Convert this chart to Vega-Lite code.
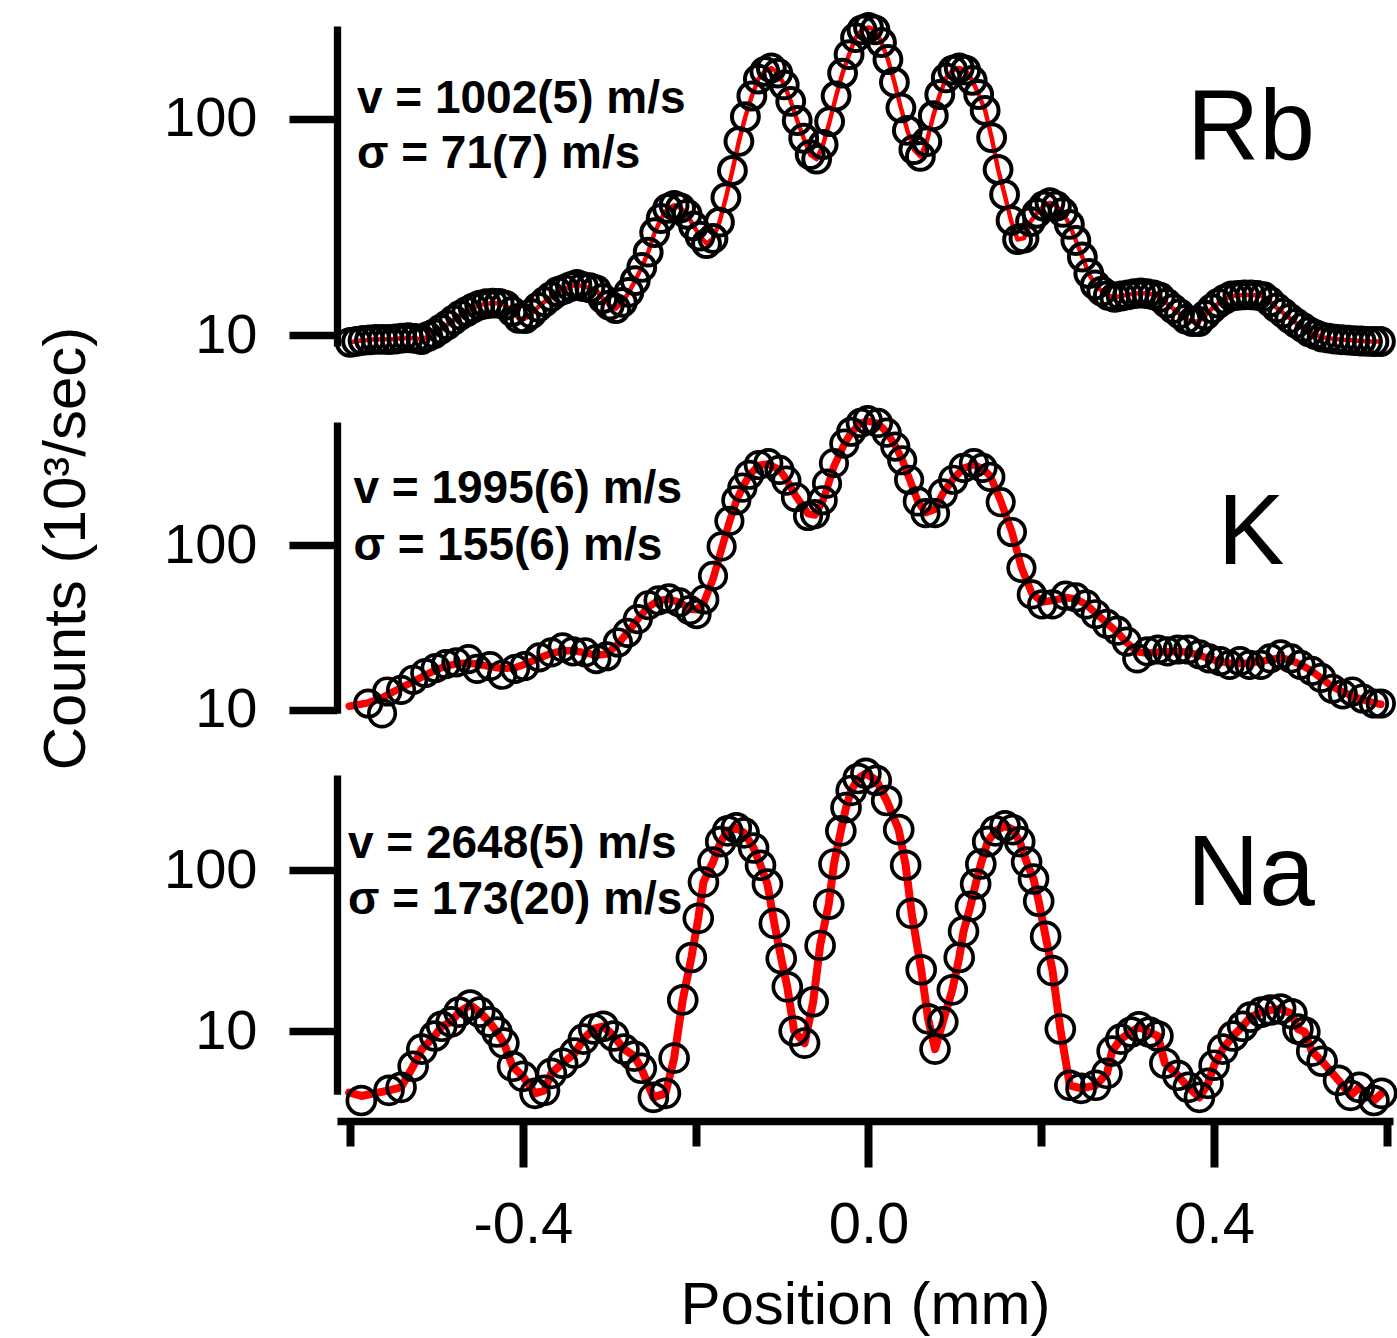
{
  "$schema": "https://vega.github.io/schema/vega-lite/v6.json",
  "width": 1056,
  "height": 1121,
  "autosize": {"type": "none"},
  "padding": {"left": 337, "top": 0, "right": 4, "bottom": 217},
  "background": "white",
  "config": {
    "view": {"stroke": null},
    "font": "Liberation Sans",
    "axis": {"grid": false, "domainColor": "black", "tickColor": "black", "labelColor": "black", "titleColor": "black", "domainCap": "butt", "tickCap": "butt"}
  },
  "datasets": {
    "beams": [
      {"el":"Rb","x":-0.6,"n":9.3},{"el":"Rb","x":-0.5925,"n":9.4},{"el":"Rb","x":-0.585,"n":9.5},{"el":"Rb","x":-0.5775,"n":9.55},
      {"el":"Rb","x":-0.57,"n":9.6},{"el":"Rb","x":-0.5625,"n":9.6},{"el":"Rb","x":-0.555,"n":9.58},{"el":"Rb","x":-0.5475,"n":9.63},
      {"el":"Rb","x":-0.54,"n":9.73},{"el":"Rb","x":-0.5325,"n":9.76},{"el":"Rb","x":-0.525,"n":9.69},{"el":"Rb","x":-0.5175,"n":9.58},
      {"el":"Rb","x":-0.51,"n":9.89},{"el":"Rb","x":-0.5025,"n":10.2},{"el":"Rb","x":-0.495,"n":10.7},{"el":"Rb","x":-0.4875,"n":11.2},
      {"el":"Rb","x":-0.48,"n":11.8},{"el":"Rb","x":-0.4725,"n":12.4},{"el":"Rb","x":-0.465,"n":12.9},{"el":"Rb","x":-0.4575,"n":13.4},
      {"el":"Rb","x":-0.45,"n":13.8},{"el":"Rb","x":-0.4425,"n":14.0},{"el":"Rb","x":-0.435,"n":14.1},{"el":"Rb","x":-0.4275,"n":14.05},
      {"el":"Rb","x":-0.42,"n":13.8},{"el":"Rb","x":-0.4125,"n":12.9},{"el":"Rb","x":-0.405,"n":12.0},{"el":"Rb","x":-0.3975,"n":11.95},
      {"el":"Rb","x":-0.39,"n":12.6},{"el":"Rb","x":-0.3825,"n":13.5},{"el":"Rb","x":-0.375,"n":14.3},{"el":"Rb","x":-0.3675,"n":15.1},
      {"el":"Rb","x":-0.36,"n":15.9},{"el":"Rb","x":-0.3525,"n":16.3},{"el":"Rb","x":-0.345,"n":16.8},{"el":"Rb","x":-0.3375,"n":17.2},
      {"el":"Rb","x":-0.33,"n":16.8},{"el":"Rb","x":-0.3225,"n":16.6},{"el":"Rb","x":-0.315,"n":16.2},{"el":"Rb","x":-0.3075,"n":14.8},
      {"el":"Rb","x":-0.3,"n":13.8},{"el":"Rb","x":-0.2925,"n":13.3},{"el":"Rb","x":-0.285,"n":14.2},{"el":"Rb","x":-0.2775,"n":15.8},
      {"el":"Rb","x":-0.27,"n":17.9},{"el":"Rb","x":-0.2625,"n":20.6},{"el":"Rb","x":-0.255,"n":24.2},{"el":"Rb","x":-0.2475,"n":29.8},
      {"el":"Rb","x":-0.24,"n":34.6},{"el":"Rb","x":-0.2325,"n":38.5},{"el":"Rb","x":-0.225,"n":39.8},{"el":"Rb","x":-0.2175,"n":38.7},
      {"el":"Rb","x":-0.21,"n":36.2},{"el":"Rb","x":-0.2025,"n":32.0},{"el":"Rb","x":-0.195,"n":28.7},{"el":"Rb","x":-0.1875,"n":26.5},
      {"el":"Rb","x":-0.18,"n":28.0},{"el":"Rb","x":-0.1725,"n":33.3},{"el":"Rb","x":-0.165,"n":43.2},{"el":"Rb","x":-0.1575,"n":57.6},
      {"el":"Rb","x":-0.15,"n":78.5},{"el":"Rb","x":-0.1425,"n":102},{"el":"Rb","x":-0.135,"n":127},{"el":"Rb","x":-0.1275,"n":152},
      {"el":"Rb","x":-0.12,"n":165},{"el":"Rb","x":-0.1125,"n":171},{"el":"Rb","x":-0.105,"n":162},{"el":"Rb","x":-0.0975,"n":143},
      {"el":"Rb","x":-0.09,"n":120},{"el":"Rb","x":-0.0825,"n":97.9},{"el":"Rb","x":-0.075,"n":81.1},{"el":"Rb","x":-0.0675,"n":68.2},
      {"el":"Rb","x":-0.06,"n":65.0},{"el":"Rb","x":-0.0525,"n":75.9},{"el":"Rb","x":-0.045,"n":96.8},{"el":"Rb","x":-0.0375,"n":127},
      {"el":"Rb","x":-0.03,"n":162},{"el":"Rb","x":-0.0225,"n":197},{"el":"Rb","x":-0.015,"n":236},{"el":"Rb","x":-0.0075,"n":256},
      {"el":"Rb","x":0.0,"n":263},{"el":"Rb","x":0.0075,"n":256},{"el":"Rb","x":0.015,"n":224},{"el":"Rb","x":0.0225,"n":187},
      {"el":"Rb","x":0.03,"n":147},{"el":"Rb","x":0.0375,"n":112},{"el":"Rb","x":0.045,"n":88.1},{"el":"Rb","x":0.0525,"n":71.9},
      {"el":"Rb","x":0.06,"n":66.9},{"el":"Rb","x":0.0675,"n":78.3},{"el":"Rb","x":0.075,"n":103},{"el":"Rb","x":0.0825,"n":129},
      {"el":"Rb","x":0.09,"n":154},{"el":"Rb","x":0.0975,"n":167},{"el":"Rb","x":0.105,"n":171},{"el":"Rb","x":0.1125,"n":167},
      {"el":"Rb","x":0.12,"n":150},{"el":"Rb","x":0.1275,"n":129},{"el":"Rb","x":0.135,"n":109},{"el":"Rb","x":0.1425,"n":81.7},
      {"el":"Rb","x":0.15,"n":58.2},{"el":"Rb","x":0.1575,"n":44.7},{"el":"Rb","x":0.165,"n":33.9},{"el":"Rb","x":0.1725,"n":27.7},
      {"el":"Rb","x":0.18,"n":28.1},{"el":"Rb","x":0.1875,"n":33.5},{"el":"Rb","x":0.195,"n":36.6},{"el":"Rb","x":0.2025,"n":39.5},
      {"el":"Rb","x":0.21,"n":40.9},{"el":"Rb","x":0.2175,"n":39.5},{"el":"Rb","x":0.225,"n":36.9},{"el":"Rb","x":0.2325,"n":32.5},
      {"el":"Rb","x":0.24,"n":27.4},{"el":"Rb","x":0.2475,"n":23.0},{"el":"Rb","x":0.255,"n":19.3},{"el":"Rb","x":0.2625,"n":17.1},
      {"el":"Rb","x":0.27,"n":16.0},{"el":"Rb","x":0.2775,"n":15.3},{"el":"Rb","x":0.285,"n":15.0},{"el":"Rb","x":0.2925,"n":15.2},
      {"el":"Rb","x":0.3,"n":15.4},{"el":"Rb","x":0.3075,"n":15.6},{"el":"Rb","x":0.315,"n":15.7},{"el":"Rb","x":0.3225,"n":15.6},
      {"el":"Rb","x":0.33,"n":15.4},{"el":"Rb","x":0.3375,"n":15.0},{"el":"Rb","x":0.345,"n":14.1},{"el":"Rb","x":0.3525,"n":13.3},
      {"el":"Rb","x":0.36,"n":12.6},{"el":"Rb","x":0.3675,"n":11.9},{"el":"Rb","x":0.375,"n":11.6},{"el":"Rb","x":0.3825,"n":11.6},
      {"el":"Rb","x":0.39,"n":12.4},{"el":"Rb","x":0.3975,"n":13.3},{"el":"Rb","x":0.405,"n":14.1},{"el":"Rb","x":0.4125,"n":14.7},
      {"el":"Rb","x":0.42,"n":15.2},{"el":"Rb","x":0.4275,"n":15.3},{"el":"Rb","x":0.435,"n":15.4},{"el":"Rb","x":0.4425,"n":15.4},
      {"el":"Rb","x":0.45,"n":15.3},{"el":"Rb","x":0.4575,"n":15.1},{"el":"Rb","x":0.465,"n":14.3},{"el":"Rb","x":0.4725,"n":13.4},
      {"el":"Rb","x":0.48,"n":12.7},{"el":"Rb","x":0.4875,"n":12.0},{"el":"Rb","x":0.495,"n":11.4},{"el":"Rb","x":0.5025,"n":10.9},
      {"el":"Rb","x":0.51,"n":10.4},{"el":"Rb","x":0.5175,"n":10.1},{"el":"Rb","x":0.525,"n":9.83},{"el":"Rb","x":0.5325,"n":9.72},
      {"el":"Rb","x":0.54,"n":9.62},{"el":"Rb","x":0.5475,"n":9.56},{"el":"Rb","x":0.555,"n":9.52},{"el":"Rb","x":0.5625,"n":9.47},
      {"el":"Rb","x":0.57,"n":9.43},{"el":"Rb","x":0.5775,"n":9.39},{"el":"Rb","x":0.585,"n":9.38},{"el":"Rb","x":0.5925,"n":9.38},

      {"el":"K","x":-0.601,"n":null,"f":10.5},
      {"el":"K","x":-0.579,"n":10.9,"f":11.0},{"el":"K","x":-0.563,"n":9.5,"f":11.8},{"el":"K","x":-0.557,"n":12.9,"f":12.3},
      {"el":"K","x":-0.541,"n":13.2,"f":13.6},{"el":"K","x":-0.527,"n":15.2,"f":14.8},{"el":"K","x":-0.513,"n":16.7,"f":16.2},
      {"el":"K","x":-0.501,"n":17.9,"f":17.4},{"el":"K","x":-0.489,"n":18.9,"f":18.4},{"el":"K","x":-0.477,"n":19.4,"f":19.0},
      {"el":"K","x":-0.463,"n":20.3,"f":19.2},{"el":"K","x":-0.453,"n":17.7,"f":18.9},{"el":"K","x":-0.438,"n":18.4,"f":18.3},
      {"el":"K","x":-0.424,"n":16.3,"f":17.8},{"el":"K","x":-0.409,"n":17.7,"f":18.0},{"el":"K","x":-0.398,"n":18.4,"f":18.9},
      {"el":"K","x":-0.381,"n":20.8,"f":20.6},{"el":"K","x":-0.367,"n":22.3,"f":22.0},{"el":"K","x":-0.354,"n":23.9,"f":22.8},
      {"el":"K","x":-0.342,"n":22.6,"f":22.8},{"el":"K","x":-0.328,"n":22.3,"f":22.2},{"el":"K","x":-0.315,"n":20.3,"f":21.4},
      {"el":"K","x":-0.303,"n":21.1,"f":21.8},{"el":"K","x":-0.29,"n":25.6,"f":25.0},{"el":"K","x":-0.279,"n":29.3,"f":29.5},
      {"el":"K","x":-0.267,"n":35.5,"f":35.5},{"el":"K","x":-0.255,"n":43.1,"f":42.0},{"el":"K","x":-0.243,"n":46.1,"f":46.0},
      {"el":"K","x":-0.231,"n":47.4,"f":46.8},{"el":"K","x":-0.219,"n":44.9,"f":45.0},{"el":"K","x":-0.207,"n":40.2,"f":41.0},
      {"el":"K","x":-0.199,"n":38.0,"f":40.5},{"el":"K","x":-0.19,"n":46.7,"f":45.5},{"el":"K","x":-0.18,"n":64.9,"f":62.0},
      {"el":"K","x":-0.17,"n":98.0,"f":95.0},{"el":"K","x":-0.161,"n":140,"f":138},{"el":"K","x":-0.153,"n":187,"f":185},
      {"el":"K","x":-0.146,"n":223,"f":223},{"el":"K","x":-0.138,"n":267,"f":265},{"el":"K","x":-0.127,"n":306,"f":305},
      {"el":"K","x":-0.116,"n":314,"f":310},{"el":"K","x":-0.103,"n":286,"f":286},{"el":"K","x":-0.095,"n":246,"f":250},
      {"el":"K","x":-0.084,"n":195,"f":198},{"el":"K","x":-0.07,"n":150,"f":155},{"el":"K","x":-0.062,"n":154,"f":152},
      {"el":"K","x":-0.053,"n":187,"f":185},{"el":"K","x":-0.048,"n":236,"f":220},{"el":"K","x":-0.04,"n":314,"f":300},
      {"el":"K","x":-0.028,"n":413,"f":410},{"el":"K","x":-0.02,"n":487,"f":480},{"el":"K","x":-0.009,"n":551,"f":550},
      {"el":"K","x":-0.001,"n":574,"f":565},{"el":"K","x":0.011,"n":551,"f":548},{"el":"K","x":0.021,"n":481,"f":485},
      {"el":"K","x":0.031,"n":396,"f":400},{"el":"K","x":0.039,"n":327,"f":330},{"el":"K","x":0.047,"n":249,"f":255},
      {"el":"K","x":0.057,"n":184,"f":185},{"el":"K","x":0.066,"n":156,"f":157},{"el":"K","x":0.077,"n":156,"f":165},
      {"el":"K","x":0.086,"n":206,"f":205},{"el":"K","x":0.098,"n":249,"f":252},{"el":"K","x":0.11,"n":294,"f":292},
      {"el":"K","x":0.122,"n":314,"f":308},{"el":"K","x":0.132,"n":294,"f":290},{"el":"K","x":0.141,"n":259,"f":262},
      {"el":"K","x":0.153,"n":182,"f":185},{"el":"K","x":0.166,"n":120,"f":120},{"el":"K","x":0.177,"n":72.5,"f":73.0},
      {"el":"K","x":0.189,"n":50.1,"f":51.0},{"el":"K","x":0.201,"n":43.6,"f":45.0},{"el":"K","x":0.213,"n":43.6,"f":46.0},
      {"el":"K","x":0.228,"n":49.3,"f":48.0},{"el":"K","x":0.24,"n":48.1,"f":47.0},{"el":"K","x":0.252,"n":43.6,"f":43.5},
      {"el":"K","x":0.263,"n":38.0,"f":38.5},{"el":"K","x":0.276,"n":33.2,"f":33.5},{"el":"K","x":0.288,"n":30.2,"f":29.5},
      {"el":"K","x":0.299,"n":25.9,"f":25.5},{"el":"K","x":0.311,"n":20.5,"f":22.5},{"el":"K","x":0.323,"n":22.6,"f":22.0},
      {"el":"K","x":0.335,"n":23.2,"f":22.4},{"el":"K","x":0.346,"n":22.6,"f":22.5},{"el":"K","x":0.358,"n":23.2,"f":22.6},
      {"el":"K","x":0.37,"n":23.2,"f":22.3},{"el":"K","x":0.383,"n":21.7,"f":21.4},{"el":"K","x":0.394,"n":20.5,"f":20.4},
      {"el":"K","x":0.407,"n":19.7,"f":19.6},{"el":"K","x":0.418,"n":18.7,"f":19.2},{"el":"K","x":0.43,"n":19.7,"f":19.1},
      {"el":"K","x":0.441,"n":18.7,"f":19.2},{"el":"K","x":0.454,"n":18.7,"f":19.6},{"el":"K","x":0.465,"n":20.5,"f":20.2},
      {"el":"K","x":0.477,"n":21.7,"f":20.6},{"el":"K","x":0.489,"n":20.5,"f":20.0},{"el":"K","x":0.5,"n":18.7,"f":18.8},
      {"el":"K","x":0.513,"n":17.2,"f":17.2},{"el":"K","x":0.524,"n":15.6,"f":15.5},{"el":"K","x":0.537,"n":13.4,"f":13.8},
      {"el":"K","x":0.549,"n":12.4,"f":12.8},{"el":"K","x":0.56,"n":12.9,"f":12.1},{"el":"K","x":0.572,"n":11.7,"f":11.5},
      {"el":"K","x":0.585,"n":10.9,"f":11.0},{"el":"K","x":0.593,"n":10.9,"f":10.8},

      {"el":"Na","x":-0.601,"n":null,"f":4.15},
      {"el":"Na","x":-0.587,"n":3.7,"f":3.95},{"el":"Na","x":-0.555,"n":4.28,"f":4.28},{"el":"Na","x":-0.541,"n":4.47,"f":4.47},
      {"el":"Na","x":-0.527,"n":6.04,"f":6.04},{"el":"Na","x":-0.517,"n":7.72,"f":7.72},{"el":"Na","x":-0.502,"n":9.31,"f":9.31},
      {"el":"Na","x":-0.494,"n":10.7,"f":10.7},{"el":"Na","x":-0.483,"n":11.4,"f":11.4},{"el":"Na","x":-0.474,"n":13.1,"f":13.1},
      {"el":"Na","x":-0.461,"n":14.5,"f":14.5},{"el":"Na","x":-0.45,"n":13.1,"f":13.1},{"el":"Na","x":-0.439,"n":11.4,"f":11.4},
      {"el":"Na","x":-0.43,"n":9.86,"f":9.86},{"el":"Na","x":-0.422,"n":8.41,"f":8.41},{"el":"Na","x":-0.412,"n":6.04,"f":6.04},
      {"el":"Na","x":-0.4,"n":5.23,"f":5.23},{"el":"Na","x":-0.386,"n":4.1,"f":4.1},{"el":"Na","x":-0.375,"n":4.28,"f":4.28},
      {"el":"Na","x":-0.367,"n":5.46,"f":5.46},{"el":"Na","x":-0.354,"n":6.31,"f":6.31},{"el":"Na","x":-0.34,"n":7.29,"f":7.29},
      {"el":"Na","x":-0.33,"n":8.91,"f":8.91},{"el":"Na","x":-0.318,"n":10.3,"f":10.3},{"el":"Na","x":-0.307,"n":10.7,"f":10.7},
      {"el":"Na","x":-0.295,"n":9.31,"f":9.31},{"el":"Na","x":-0.283,"n":7.72,"f":7.72},{"el":"Na","x":-0.271,"n":6.98,"f":6.98},
      {"el":"Na","x":-0.263,"n":5.87,"f":5.87},{"el":"Na","x":-0.249,"n":3.87,"f":3.87},{"el":"Na","x":-0.235,"n":4.1,"f":4.1},
      {"el":"Na","x":-0.225,"n":6.78,"f":6.78},{"el":"Na","x":-0.215,"n":15.6,"f":15.6},{"el":"Na","x":-0.205,"n":28.6,"f":28.6},
      {"el":"Na","x":-0.197,"n":50.1,"f":50.1},{"el":"Na","x":-0.191,"n":84.1,"f":84.1},{"el":"Na","x":-0.18,"n":112,"f":112},
      {"el":"Na","x":-0.171,"n":150,"f":150},{"el":"Na","x":-0.163,"n":175,"f":175},{"el":"Na","x":-0.153,"n":183,"f":183},
      {"el":"Na","x":-0.144,"n":170,"f":170},{"el":"Na","x":-0.133,"n":137,"f":137},{"el":"Na","x":-0.125,"n":107,"f":107},
      {"el":"Na","x":-0.117,"n":81.8,"f":81.8},{"el":"Na","x":-0.109,"n":46.6,"f":46.6},{"el":"Na","x":-0.101,"n":28.2,"f":28.2},
      {"el":"Na","x":-0.094,"n":18.8,"f":18.8},{"el":"Na","x":-0.086,"n":10.0,"f":10.0},{"el":"Na","x":-0.074,"n":8.41,"f":8.41},
      {"el":"Na","x":-0.064,"n":15.2,"f":15.2},{"el":"Na","x":-0.056,"n":34.0,"f":34.0},{"el":"Na","x":-0.046,"n":61.3,"f":61.3},
      {"el":"Na","x":-0.04,"n":109,"f":109},{"el":"Na","x":-0.032,"n":175,"f":175},{"el":"Na","x":-0.026,"n":244,"f":244},
      {"el":"Na","x":-0.02,"n":312,"f":312},{"el":"Na","x":-0.012,"n":370,"f":370},{"el":"Na","x":-0.003,"n":398,"f":398},
      {"el":"Na","x":0.009,"n":360,"f":360},{"el":"Na","x":0.021,"n":270,"f":270},{"el":"Na","x":0.035,"n":178,"f":178},
      {"el":"Na","x":0.043,"n":107,"f":107},{"el":"Na","x":0.05,"n":53.8,"f":53.8},{"el":"Na","x":0.061,"n":24.0,"f":24.0},
      {"el":"Na","x":0.069,"n":11.9,"f":11.9},{"el":"Na","x":0.077,"n":7.72,"f":7.72},{"el":"Na","x":0.086,"n":11.4,"f":11.4},
      {"el":"Na","x":0.097,"n":18.0,"f":18.0},{"el":"Na","x":0.105,"n":28.6,"f":28.6},{"el":"Na","x":0.11,"n":41.6,"f":41.6},
      {"el":"Na","x":0.118,"n":59.6,"f":59.6},{"el":"Na","x":0.124,"n":81.8,"f":81.8},{"el":"Na","x":0.13,"n":109,"f":109},
      {"el":"Na","x":0.138,"n":150,"f":150},{"el":"Na","x":0.147,"n":175,"f":175},{"el":"Na","x":0.158,"n":188,"f":188},
      {"el":"Na","x":0.167,"n":178,"f":178},{"el":"Na","x":0.175,"n":150,"f":150},{"el":"Na","x":0.183,"n":112,"f":112},
      {"el":"Na","x":0.191,"n":87.9,"f":87.9},{"el":"Na","x":0.197,"n":64.0,"f":64.0},{"el":"Na","x":0.205,"n":38.7,"f":38.7},
      {"el":"Na","x":0.213,"n":23.7,"f":23.7},{"el":"Na","x":0.222,"n":10.3,"f":10.3},{"el":"Na","x":0.233,"n":4.6,"f":4.6},
      {"el":"Na","x":0.246,"n":4.4,"f":4.4},{"el":"Na","x":0.263,"n":4.6,"f":4.6},{"el":"Na","x":0.276,"n":5.46,"f":5.46},
      {"el":"Na","x":0.282,"n":7.5,"f":7.5},{"el":"Na","x":0.292,"n":8.91,"f":8.91},{"el":"Na","x":0.304,"n":9.86,"f":9.86},
      {"el":"Na","x":0.313,"n":10.6,"f":10.6},{"el":"Na","x":0.325,"n":9.86,"f":9.86},{"el":"Na","x":0.335,"n":9.31,"f":9.31},
      {"el":"Na","x":0.343,"n":6.31,"f":6.31},{"el":"Na","x":0.358,"n":5.31,"f":5.31},{"el":"Na","x":0.37,"n":4.47,"f":4.47},
      {"el":"Na","x":0.383,"n":3.87,"f":3.87},{"el":"Na","x":0.393,"n":4.73,"f":4.73},{"el":"Na","x":0.4,"n":6.13,"f":6.13},
      {"el":"Na","x":0.41,"n":7.72,"f":7.72},{"el":"Na","x":0.422,"n":9.31,"f":9.31},{"el":"Na","x":0.433,"n":10.7,"f":10.7},
      {"el":"Na","x":0.442,"n":12.2,"f":12.2},{"el":"Na","x":0.455,"n":13.1,"f":13.1},{"el":"Na","x":0.465,"n":13.5,"f":13.5},
      {"el":"Na","x":0.477,"n":13.7,"f":13.7},{"el":"Na","x":0.49,"n":12.8,"f":12.8},{"el":"Na","x":0.497,"n":10.3,"f":10.3},
      {"el":"Na","x":0.505,"n":9.86,"f":9.86},{"el":"Na","x":0.513,"n":7.5,"f":7.5},{"el":"Na","x":0.525,"n":6.49,"f":6.49},
      {"el":"Na","x":0.544,"n":4.94,"f":4.94},{"el":"Na","x":0.558,"n":3.98,"f":3.98},{"el":"Na","x":0.568,"n":4.47,"f":4.47},
      {"el":"Na","x":0.585,"n":3.7,"f":3.7},{"el":"Na","x":0.594,"n":4.1,"f":4.1}
    ],
    "notes": [
      {"el": "Rb", "kind": "fit", "txt": ["v = 1002(5) m/s", "σ = 71(7) m/s"]},
      {"el": "K", "kind": "fit", "txt": ["v = 1995(6) m/s", "σ = 155(6) m/s"]},
      {"el": "Na", "kind": "fit", "txt": ["v = 2648(5) m/s", "σ = 173(20) m/s"]},
      {"el": "Rb", "kind": "name", "txt": "Rb"},
      {"el": "K", "kind": "name", "txt": "K"},
      {"el": "Na", "kind": "name", "txt": "Na"}
    ]
  },
  "data": {"name": "beams"},
  "layer": [
    {
      "layer": [
        {
          "transform": [{"filter": "datum.el === 'Rb'"}],
          "mark": {"type": "line", "color": "#ff0000", "strokeWidth": 4.5, "strokeCap": "round", "strokeJoin": "round"},
          "encoding": {
            "x": {"field": "x", "type": "quantitative", "scale": {"domain": [-0.61516, 0.60706], "nice": false, "zero": false}, "axis": null},
            "y": {"field": "n", "type": "quantitative", "scale": {"type": "log", "domain": [8.944, 266.9], "range": [346, 26], "nice": false},
                  "axis": {"orient": "left", "values": [10, 100], "format": "d", "title": null, "domainWidth": 7.3, "tickSize": 48, "tickWidth": 7.5, "labelFontSize": 56, "labelPadding": 32, "offset": 0}}
          }
        },
        {
          "transform": [{"filter": "datum.el === 'Rb'"}],
          "mark": {"type": "point", "shape": "circle", "filled": false, "size": 720, "strokeWidth": 4.0, "color": "black", "opacity": 1},
          "encoding": {
            "x": {"field": "x", "type": "quantitative", "scale": {"domain": [-0.61516, 0.60706], "nice": false, "zero": false}, "axis": null},
            "y": {"field": "n", "type": "quantitative", "scale": {"type": "log", "domain": [8.944, 266.9], "range": [346, 26], "nice": false},
                  "axis": {"orient": "left", "values": [10, 100], "format": "d", "title": null, "domainWidth": 7.3, "tickSize": 48, "tickWidth": 7.5, "labelFontSize": 56, "labelPadding": 32, "offset": 0}}
          }
        },
        {
          "data": {"name": "notes"},
          "transform": [{"filter": "datum.el === 'Rb' && datum.kind === 'fit'"}],
          "mark": {"type": "text", "fontSize": 46, "fontWeight": "bold", "align": "left", "baseline": "alphabetic", "lineHeight": 55, "color": "black"},
          "encoding": {
            "x": {"datum": -0.5921, "type": "quantitative", "axis": null},
            "y": {"datum": 106.2, "type": "quantitative",
                  "axis": {"orient": "left", "values": [10, 100], "format": "d", "title": null, "domainWidth": 7.3, "tickSize": 48, "tickWidth": 7.5, "labelFontSize": 56, "labelPadding": 32, "offset": 0}},
            "text": {"field": "txt"}
          }
        },
        {
          "data": {"name": "notes"},
          "transform": [{"filter": "datum.el === 'Rb' && datum.kind === 'name'"}],
          "mark": {"type": "text", "fontSize": 100, "align": "center", "baseline": "alphabetic", "color": "black"},
          "encoding": {
            "x": {"datum": 0.4427, "type": "quantitative", "axis": null},
            "y": {"datum": 64.4, "type": "quantitative",
                  "axis": {"orient": "left", "values": [10, 100], "format": "d", "title": null, "domainWidth": 7.3, "tickSize": 48, "tickWidth": 7.5, "labelFontSize": 56, "labelPadding": 32, "offset": 0}},
            "text": {"field": "txt"}
          }
        }
      ]
    },
    {
      "layer": [
        {
          "transform": [{"filter": "datum.el === 'K'"}],
          "mark": {"type": "line", "color": "#ff0000", "strokeWidth": 7.5, "strokeCap": "round", "strokeJoin": "round"},
          "encoding": {
            "x": {"field": "x", "type": "quantitative", "scale": {"domain": [-0.61516, 0.60706], "nice": false, "zero": false},
                  "axis": {"orient": "bottom", "values": [-0.6, -0.2, 0.2, 0.6], "labels": false, "title": null, "domain": false, "tickSize": 25, "tickWidth": 8}},
            "y": {"field": "f", "type": "quantitative", "scale": {"type": "log", "domain": [9.509, 558.3], "range": [713.3, 422], "nice": false},
                  "axis": {"orient": "left", "values": [10, 100], "format": "d", "title": "Counts (10³/sec)", "titleFontSize": 60, "titleFontWeight": "normal", "titleAngle": 270, "titleBaseline": "alphabetic", "titleAlign": "center", "titleX": -253, "titleY": 548, "domainWidth": 7.3, "tickSize": 48, "tickWidth": 7.5, "labelFontSize": 56, "labelPadding": 32, "offset": 0}}
          }
        },
        {
          "transform": [{"filter": "datum.el === 'K' && datum.n != null"}],
          "mark": {"type": "point", "shape": "circle", "filled": false, "size": 700, "strokeWidth": 3.7, "color": "black", "opacity": 1},
          "encoding": {
            "x": {"field": "x", "type": "quantitative", "scale": {"domain": [-0.61516, 0.60706], "nice": false, "zero": false},
                  "axis": {"orient": "bottom", "values": [-0.6, -0.2, 0.2, 0.6], "labels": false, "title": null, "domain": false, "tickSize": 25, "tickWidth": 8}},
            "y": {"field": "n", "type": "quantitative", "scale": {"type": "log", "domain": [9.509, 558.3], "range": [713.3, 422], "nice": false},
                  "axis": {"orient": "left", "values": [10, 100], "format": "d", "title": "Counts (10³/sec)", "titleFontSize": 60, "titleFontWeight": "normal", "titleAngle": 270, "titleBaseline": "alphabetic", "titleAlign": "center", "titleX": -253, "titleY": 548, "domainWidth": 7.3, "tickSize": 48, "tickWidth": 7.5, "labelFontSize": 56, "labelPadding": 32, "offset": 0}}
          }
        },
        {
          "data": {"name": "notes"},
          "transform": [{"filter": "datum.el === 'K' && datum.kind === 'fit'"}],
          "mark": {"type": "text", "fontSize": 46, "fontWeight": "bold", "align": "left", "baseline": "alphabetic", "lineHeight": 57, "color": "black"},
          "encoding": {
            "x": {"datum": -0.5962, "type": "quantitative",
                  "axis": {"orient": "bottom", "values": [-0.6, -0.2, 0.2, 0.6], "labels": false, "title": null, "domain": false, "tickSize": 25, "tickWidth": 8}},
            "y": {"datum": 180.6, "type": "quantitative",
                  "axis": {"orient": "left", "values": [10, 100], "format": "d", "title": "Counts (10³/sec)", "titleFontSize": 60, "titleFontWeight": "normal", "titleAngle": 270, "titleBaseline": "alphabetic", "titleAlign": "center", "titleX": -253, "titleY": 548, "domainWidth": 7.3, "tickSize": 48, "tickWidth": 7.5, "labelFontSize": 56, "labelPadding": 32, "offset": 0}},
            "text": {"field": "txt"}
          }
        },
        {
          "data": {"name": "notes"},
          "transform": [{"filter": "datum.el === 'K' && datum.kind === 'name'"}],
          "mark": {"type": "text", "fontSize": 100, "align": "center", "baseline": "alphabetic", "color": "black"},
          "encoding": {
            "x": {"datum": 0.4427, "type": "quantitative",
                  "axis": {"orient": "bottom", "values": [-0.6, -0.2, 0.2, 0.6], "labels": false, "title": null, "domain": false, "tickSize": 25, "tickWidth": 8}},
            "y": {"datum": 76.7, "type": "quantitative",
                  "axis": {"orient": "left", "values": [10, 100], "format": "d", "title": "Counts (10³/sec)", "titleFontSize": 60, "titleFontWeight": "normal", "titleAngle": 270, "titleBaseline": "alphabetic", "titleAlign": "center", "titleX": -253, "titleY": 548, "domainWidth": 7.3, "tickSize": 48, "tickWidth": 7.5, "labelFontSize": 56, "labelPadding": 32, "offset": 0}},
            "text": {"field": "txt"}
          }
        }
      ]
    },
    {
      "layer": [
        {
          "transform": [{"filter": "datum.el === 'Na'"}],
          "mark": {"type": "line", "color": "#ff0000", "strokeWidth": 8, "strokeCap": "round", "strokeJoin": "round"},
          "encoding": {
            "x": {"field": "x", "type": "quantitative", "scale": {"domain": [-0.61516, 0.60706], "nice": false, "zero": false},
                  "axis": {"orient": "bottom", "values": [-0.4, 0, 0.4], "labelExpr": "datum.value < 0 ? '-' + format(-datum.value, '.1f') : format(datum.value, '.1f')", "title": "Position (mm)", "titleFontSize": 60, "titleFontWeight": "normal", "titlePadding": 22, "domainWidth": 7.3, "tickSize": 46, "tickWidth": 8, "labelFontSize": 58, "labelPadding": 29}},
            "y": {"field": "f", "type": "quantitative", "scale": {"type": "log", "domain": [4.045, 389.1], "range": [1094.3, 775], "nice": false},
                  "axis": {"orient": "left", "values": [10, 100], "format": "d", "title": null, "domainWidth": 7.3, "tickSize": 48, "tickWidth": 7.5, "labelFontSize": 56, "labelPadding": 32, "offset": 0}}
          }
        },
        {
          "transform": [{"filter": "datum.el === 'Na' && datum.n != null"}],
          "mark": {"type": "point", "shape": "circle", "filled": false, "size": 780, "strokeWidth": 3.7, "color": "black", "opacity": 1},
          "encoding": {
            "x": {"field": "x", "type": "quantitative", "scale": {"domain": [-0.61516, 0.60706], "nice": false, "zero": false},
                  "axis": {"orient": "bottom", "values": [-0.4, 0, 0.4], "labelExpr": "datum.value < 0 ? '-' + format(-datum.value, '.1f') : format(datum.value, '.1f')", "title": "Position (mm)", "titleFontSize": 60, "titleFontWeight": "normal", "titlePadding": 22, "domainWidth": 7.3, "tickSize": 46, "tickWidth": 8, "labelFontSize": 58, "labelPadding": 29}},
            "y": {"field": "n", "type": "quantitative", "scale": {"type": "log", "domain": [4.045, 389.1], "range": [1094.3, 775], "nice": false},
                  "axis": {"orient": "left", "values": [10, 100], "format": "d", "title": null, "domainWidth": 7.3, "tickSize": 48, "tickWidth": 7.5, "labelFontSize": 56, "labelPadding": 32, "offset": 0}}
          }
        },
        {
          "data": {"name": "notes"},
          "transform": [{"filter": "datum.el === 'Na' && datum.kind === 'fit'"}],
          "mark": {"type": "text", "fontSize": 46, "fontWeight": "bold", "align": "left", "baseline": "alphabetic", "lineHeight": 56, "color": "black"},
          "encoding": {
            "x": {"datum": -0.6025, "type": "quantitative",
                  "axis": {"orient": "bottom", "values": [-0.4, 0, 0.4], "labelExpr": "datum.value < 0 ? '-' + format(-datum.value, '.1f') : format(datum.value, '.1f')", "title": "Position (mm)", "titleFontSize": 60, "titleFontWeight": "normal", "titlePadding": 22, "domainWidth": 7.3, "tickSize": 46, "tickWidth": 8, "labelFontSize": 58, "labelPadding": 29}},
            "y": {"datum": 119.2, "type": "quantitative",
                  "axis": {"orient": "left", "values": [10, 100], "format": "d", "title": null, "domainWidth": 7.3, "tickSize": 48, "tickWidth": 7.5, "labelFontSize": 56, "labelPadding": 32, "offset": 0}},
            "text": {"field": "txt"}
          }
        },
        {
          "data": {"name": "notes"},
          "transform": [{"filter": "datum.el === 'Na' && datum.kind === 'name'"}],
          "mark": {"type": "text", "fontSize": 100, "align": "center", "baseline": "alphabetic", "color": "black"},
          "encoding": {
            "x": {"datum": 0.4427, "type": "quantitative",
                  "axis": {"orient": "bottom", "values": [-0.4, 0, 0.4], "labelExpr": "datum.value < 0 ? '-' + format(-datum.value, '.1f') : format(datum.value, '.1f')", "title": "Position (mm)", "titleFontSize": 60, "titleFontWeight": "normal", "titlePadding": 22, "domainWidth": 7.3, "tickSize": 46, "tickWidth": 8, "labelFontSize": 58, "labelPadding": 29}},
            "y": {"datum": 60.6, "type": "quantitative",
                  "axis": {"orient": "left", "values": [10, 100], "format": "d", "title": null, "domainWidth": 7.3, "tickSize": 48, "tickWidth": 7.5, "labelFontSize": 56, "labelPadding": 32, "offset": 0}},
            "text": {"field": "txt"}
          }
        }
      ]
    }
  ],
  "resolve": {"scale": {"y": "independent"}, "axis": {"x": "independent", "y": "independent"}}
}
